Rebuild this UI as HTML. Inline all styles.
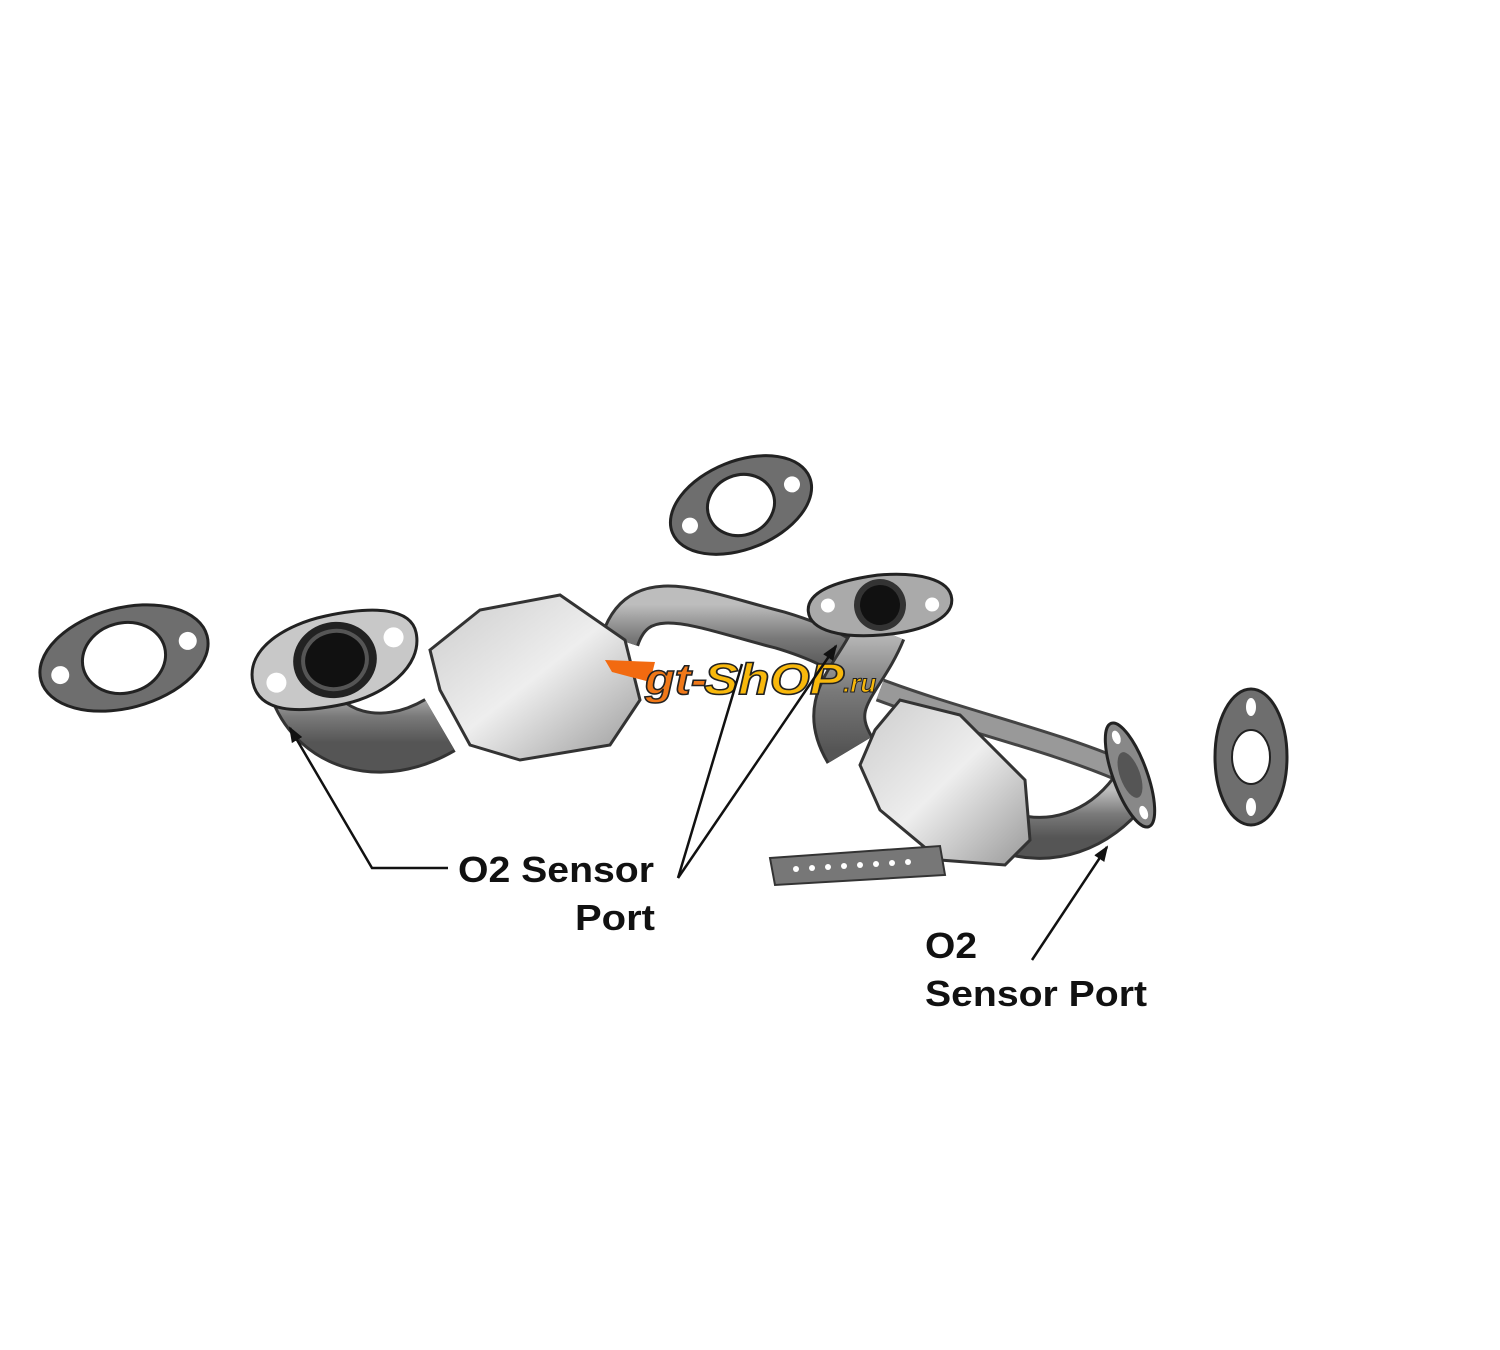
<!DOCTYPE html>
<html><head><meta charset="utf-8"><style>
html,body{margin:0;padding:0;background:#fff;width:1500px;height:1350px;overflow:hidden}
svg{display:block}
text{font-family:"Liberation Sans",sans-serif;font-weight:bold;fill:#111}
</style></head><body>
<svg width="1500" height="1350" viewBox="0 0 1500 1350" xmlns="http://www.w3.org/2000/svg">
<defs>
<linearGradient id="pipe" x1="0" y1="0" x2="0" y2="1"><stop offset="0" stop-color="#bdbdbd"/><stop offset=".5" stop-color="#7a7a7a"/><stop offset="1" stop-color="#555"/></linearGradient>
<linearGradient id="cat" x1="0" y1="0" x2="1" y2="1"><stop offset="0" stop-color="#ccc"/><stop offset=".5" stop-color="#eee"/><stop offset="1" stop-color="#999"/></linearGradient>
<marker id="ah" markerWidth="16" markerHeight="12" refX="14" refY="6" orient="auto" markerUnits="userSpaceOnUse"><path d="M0,0 L16,6 L0,12 Z" fill="#111"/></marker>
</defs>
<!-- gaskets -->
<g transform="translate(741,505) rotate(-22)">
<ellipse rx="74" ry="44" fill="#6e6e6e" stroke="#222" stroke-width="3"/>
<ellipse rx="34" ry="30" fill="#fff" stroke="#222" stroke-width="3"/>
<circle cx="-55" cy="0" r="8" fill="#fff"/><circle cx="55" cy="0" r="8" fill="#fff"/>
</g>
<g transform="translate(124,658) rotate(-15)">
<ellipse rx="86" ry="50" fill="#6e6e6e" stroke="#222" stroke-width="3"/>
<ellipse rx="42" ry="35" fill="#fff" stroke="#222" stroke-width="3"/>
<circle cx="-66" cy="0" r="9" fill="#fff"/><circle cx="66" cy="0" r="9" fill="#fff"/>
</g>
<g transform="translate(1251,757)">
<ellipse rx="36" ry="68" fill="#6e6e6e" stroke="#222" stroke-width="3"/>
<ellipse rx="19" ry="27" fill="#fff" stroke="#222" stroke-width="2"/>
<ellipse cx="0" cy="-50" rx="5" ry="9" fill="#fff"/><ellipse cx="0" cy="50" rx="5" ry="9" fill="#fff"/>
</g>
<!-- pipes -->
<path d="M300,690 C320,740 380,760 440,725" stroke="#333" stroke-width="62" fill="none"/>
<path d="M300,690 C320,740 380,760 440,725" stroke="url(#pipe)" stroke-width="56" fill="none"/>
<path d="M620,640 C640,580 700,610 780,630 C830,645 850,660 860,670" stroke="#333" stroke-width="40" fill="none"/>
<path d="M620,640 C640,580 700,610 780,630 C830,645 850,660 860,670" stroke="url(#pipe)" stroke-width="34" fill="none"/>
<path d="M880,630 C860,680 820,700 850,750" stroke="#333" stroke-width="54" fill="none"/>
<path d="M880,630 C860,680 820,700 850,750" stroke="url(#pipe)" stroke-width="48" fill="none"/>
<path d="M880,690 C960,720 1050,740 1120,770" stroke="#444" stroke-width="24" fill="none"/>
<path d="M880,690 C960,720 1050,740 1120,770" stroke="#999" stroke-width="18" fill="none"/>
<path d="M1000,830 C1050,850 1100,830 1130,790" stroke="#333" stroke-width="44" fill="none"/>
<path d="M1000,830 C1050,850 1100,830 1130,790" stroke="url(#pipe)" stroke-width="38" fill="none"/>
<!-- cat 1 -->
<path d="M430,650 L480,610 L560,595 L625,640 L640,700 L610,745 L520,760 L470,745 L440,690 Z" fill="url(#cat)" stroke="#333" stroke-width="3"/>
<!-- cat 2 -->
<path d="M875,730 L900,700 L960,715 L1025,780 L1030,840 L1005,865 L940,860 L880,810 L860,765 Z" fill="url(#cat)" stroke="#333" stroke-width="3"/>
<!-- flanges -->
<g transform="translate(335,660) rotate(-12)">
<path d="M-85,5 C-85,-30 -40,-45 0,-45 C50,-45 85,-35 85,-10 C85,25 40,45 0,45 C-50,45 -85,35 -85,5Z" fill="#c8c8c8" stroke="#222" stroke-width="3"/>
<ellipse rx="42" ry="38" fill="#222"/><ellipse rx="32" ry="29" fill="#111" stroke="#555" stroke-width="4"/>
<circle cx="-62" cy="10" r="10" fill="#fff"/><circle cx="62" cy="-10" r="10" fill="#fff"/>
</g>
<g transform="translate(880,605) rotate(-5)">
<path d="M-72,0 C-72,-20 -40,-28 0,-30 C40,-30 72,-20 72,0 C72,20 40,30 0,30 C-40,30 -72,20 -72,0Z" fill="#aaa" stroke="#222" stroke-width="3"/>
<ellipse rx="26" ry="26" fill="#333"/><ellipse rx="20" ry="20" fill="#111"/>
<circle cx="-52" cy="-4" r="7" fill="#fff"/><circle cx="52" cy="4" r="7" fill="#fff"/>
</g>
<g transform="translate(1130,775) rotate(-20)">
<ellipse rx="17" ry="55" fill="#888" stroke="#222" stroke-width="3"/>
<ellipse rx="10" ry="24" fill="#555"/>
<ellipse cx="0" cy="-40" rx="4" ry="7" fill="#fff"/><ellipse cx="0" cy="40" rx="4" ry="7" fill="#fff"/>
</g>
<!-- bracket -->
<path d="M770,858 L940,846 L945,875 L775,885 Z" fill="#777" stroke="#333" stroke-width="2"/>
<g fill="#fff"><circle cx="796" cy="869" r="3"/><circle cx="812" cy="868" r="3"/><circle cx="828" cy="867" r="3"/><circle cx="844" cy="866" r="3"/><circle cx="860" cy="865" r="3"/><circle cx="876" cy="864" r="3"/><circle cx="892" cy="863" r="3"/><circle cx="908" cy="862" r="3"/></g>
<!-- logo -->
<path d="M605,660 L655,662 L650,682 L612,672 Z" fill="#f26a10"/>
<text x="645" y="694" font-size="44" font-style="italic" style="fill:#f07818" stroke="#222" stroke-width="1.5" textLength="62" lengthAdjust="spacingAndGlyphs">gt-</text>
<text x="704" y="694" font-size="44" font-style="italic" style="fill:#f8b80c" stroke="#222" stroke-width="1.5" textLength="140" lengthAdjust="spacingAndGlyphs">ShOP</text>
<text x="843" y="692" font-size="26" font-style="italic" style="fill:#f8b80c" stroke="#222" stroke-width="1">.ru</text>
<!-- connectors -->
<polyline points="448,868 372,868 290,728" fill="none" stroke="#111" stroke-width="2.5" marker-end="url(#ah)"/>
<line x1="678" y1="878" x2="742" y2="664" stroke="#111" stroke-width="2.5"/>
<line x1="678" y1="878" x2="836" y2="646" stroke="#111" stroke-width="2.5" marker-end="url(#ah)"/>
<line x1="1032" y1="960" x2="1107" y2="847" stroke="#111" stroke-width="2.5" marker-end="url(#ah)"/>
<!-- labels -->
<text x="458" y="882" font-size="36" textLength="196" lengthAdjust="spacingAndGlyphs">O2 Sensor</text>
<text x="575" y="930" font-size="36" textLength="80" lengthAdjust="spacingAndGlyphs">Port</text>
<text x="925" y="958" font-size="36" textLength="52" lengthAdjust="spacingAndGlyphs">O2</text>
<text x="925" y="1006" font-size="36" textLength="222" lengthAdjust="spacingAndGlyphs">Sensor Port</text>
</svg>
</body></html>
